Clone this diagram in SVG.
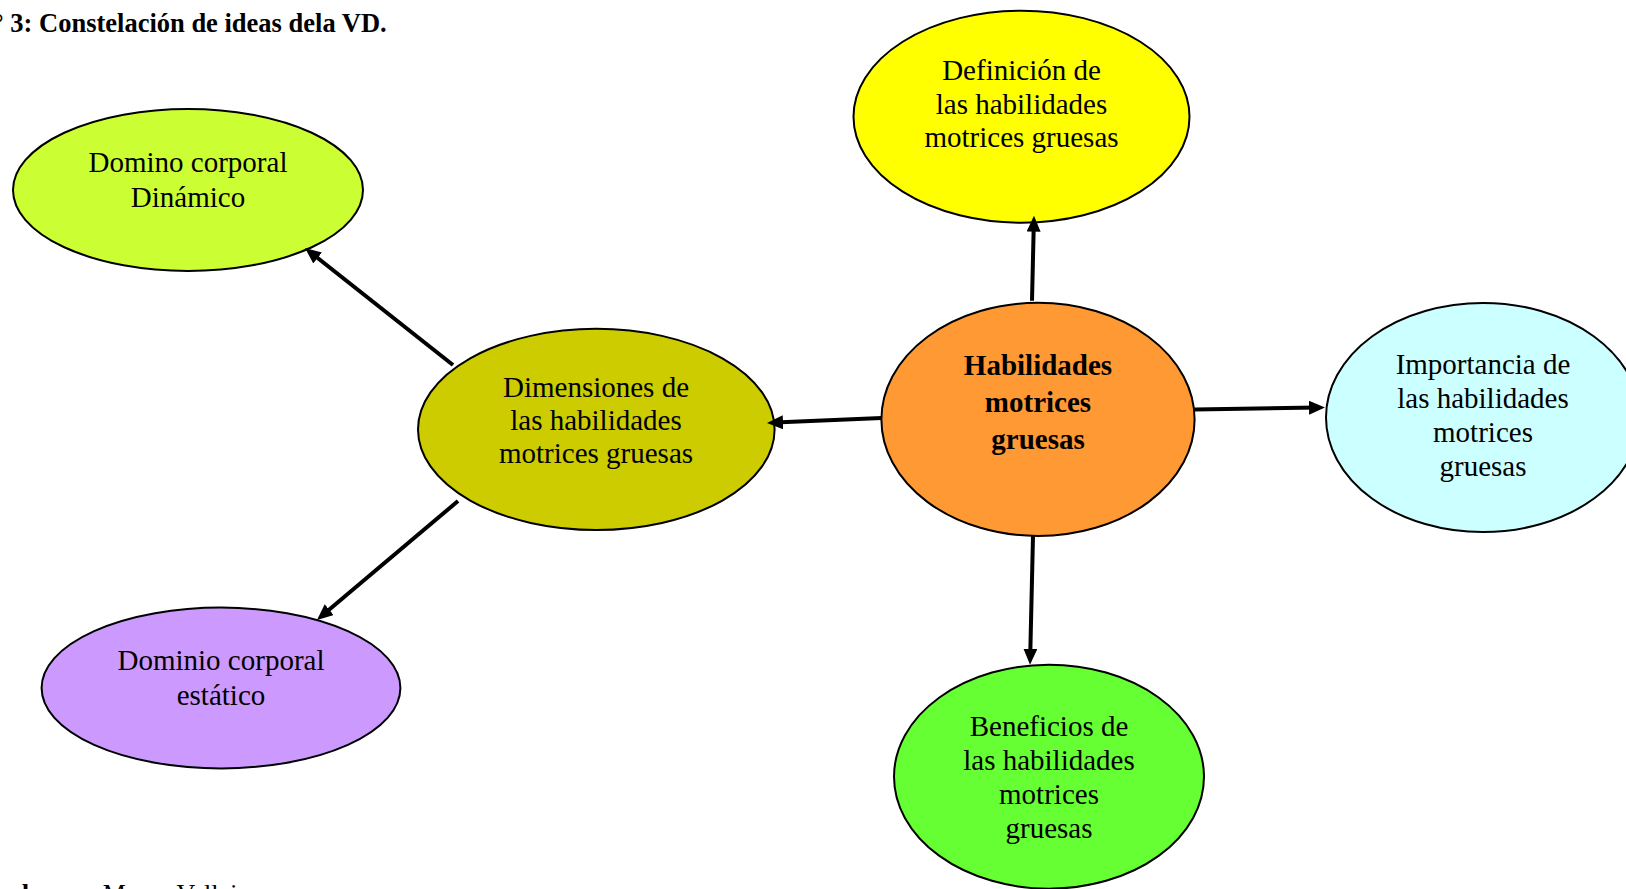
<svg xmlns="http://www.w3.org/2000/svg" width="1626" height="889" viewBox="0 0 1626 889">
<style>
.node { stroke:#000; stroke-width:2; }
.lbl { font-family:"Liberation Serif","Times New Roman",serif; font-size:29px; fill:#000; text-anchor:middle; }
.bold { font-weight:bold; }
.cap { font-family:"Liberation Serif","Times New Roman",serif; font-size:26px; fill:#000; }
.title { font-size:26.5px; font-weight:bold; }
.conn { stroke:#000; stroke-width:4; fill:none; marker-end:url(#arr); }
</style>
<defs>
<marker id="arr" markerUnits="userSpaceOnUse" markerWidth="16" markerHeight="14" viewBox="0 0 16 14" refX="8" refY="7" orient="auto">
<path d="M0,0 L16,7 L0,14 z" fill="#000"/>
</marker>
</defs>
<rect width="1626" height="889" fill="#fff"/>
<text class="cap title" x="-119.5" y="32">Gráfico N° 3: Constelación de ideas dela VD.</text>
<text class="cap" x="-75" y="902"><tspan font-weight="bold">Elaborado por: </tspan>Marco Vallejo</text>

<g id="n-dinamico">
<ellipse class="node" cx="188" cy="190" rx="175" ry="81" fill="#CCFF33"/>
<text class="lbl" x="188" y="172">Domino corporal</text>
<text class="lbl" x="188" y="207">Dinámico</text>
</g>
<g id="n-definicion">
<ellipse class="node" cx="1021.5" cy="116.7" rx="168" ry="106" fill="#FFFF00"/>
<text class="lbl" x="1021.5" y="80">Definición de</text>
<text class="lbl" x="1021.5" y="114">las habilidades</text>
<text class="lbl" x="1021.5" y="147">motrices gruesas</text>
</g>
<g id="n-centro">
<ellipse class="node" cx="1038" cy="419.4" rx="156.6" ry="116.6" fill="#FF9933"/>
<text class="lbl bold" x="1038" y="375">Habilidades</text>
<text class="lbl bold" x="1038" y="412">motrices</text>
<text class="lbl bold" x="1038" y="449">gruesas</text>
</g>
<g id="n-importancia">
<ellipse class="node" cx="1483" cy="417.5" rx="157" ry="114.6" fill="#CCFFFF"/>
<text class="lbl" x="1483" y="374">Importancia de</text>
<text class="lbl" x="1483" y="408">las habilidades</text>
<text class="lbl" x="1483" y="442">motrices</text>
<text class="lbl" x="1483" y="476">gruesas</text>
</g>
<g id="n-dimensiones">
<ellipse class="node" cx="596.3" cy="429.4" rx="178.3" ry="100.6" fill="#CCCC00"/>
<text class="lbl" x="596" y="397">Dimensiones de</text>
<text class="lbl" x="596" y="430">las habilidades</text>
<text class="lbl" x="596" y="463">motrices gruesas</text>
</g>
<g id="n-estatico">
<ellipse class="node" cx="221" cy="688" rx="179.4" ry="80.4" fill="#CC99FF"/>
<text class="lbl" x="221" y="670">Dominio corporal</text>
<text class="lbl" x="221" y="705">estático</text>
</g>
<g id="n-beneficios">
<ellipse class="node" cx="1049" cy="776.7" rx="155" ry="112" fill="#66FF33"/>
<text class="lbl" x="1049" y="736">Beneficios de</text>
<text class="lbl" x="1049" y="770">las habilidades</text>
<text class="lbl" x="1049" y="804">motrices</text>
<text class="lbl" x="1049" y="838">gruesas</text>
</g>

<g id="connectors">
<line class="conn" x1="453" y1="365" x2="311.3" y2="253"/>
<line class="conn" x1="881.5" y1="418" x2="775" y2="422.6"/>
<line class="conn" x1="1032" y1="300.7" x2="1033.8" y2="223.7"/>
<line class="conn" x1="1194.6" y1="409.6" x2="1317" y2="407.6"/>
<line class="conn" x1="1033" y1="536" x2="1030.2" y2="656.7"/>
<line class="conn" x1="458" y1="501" x2="323.1" y2="614.8"/>
</g>
</svg>
